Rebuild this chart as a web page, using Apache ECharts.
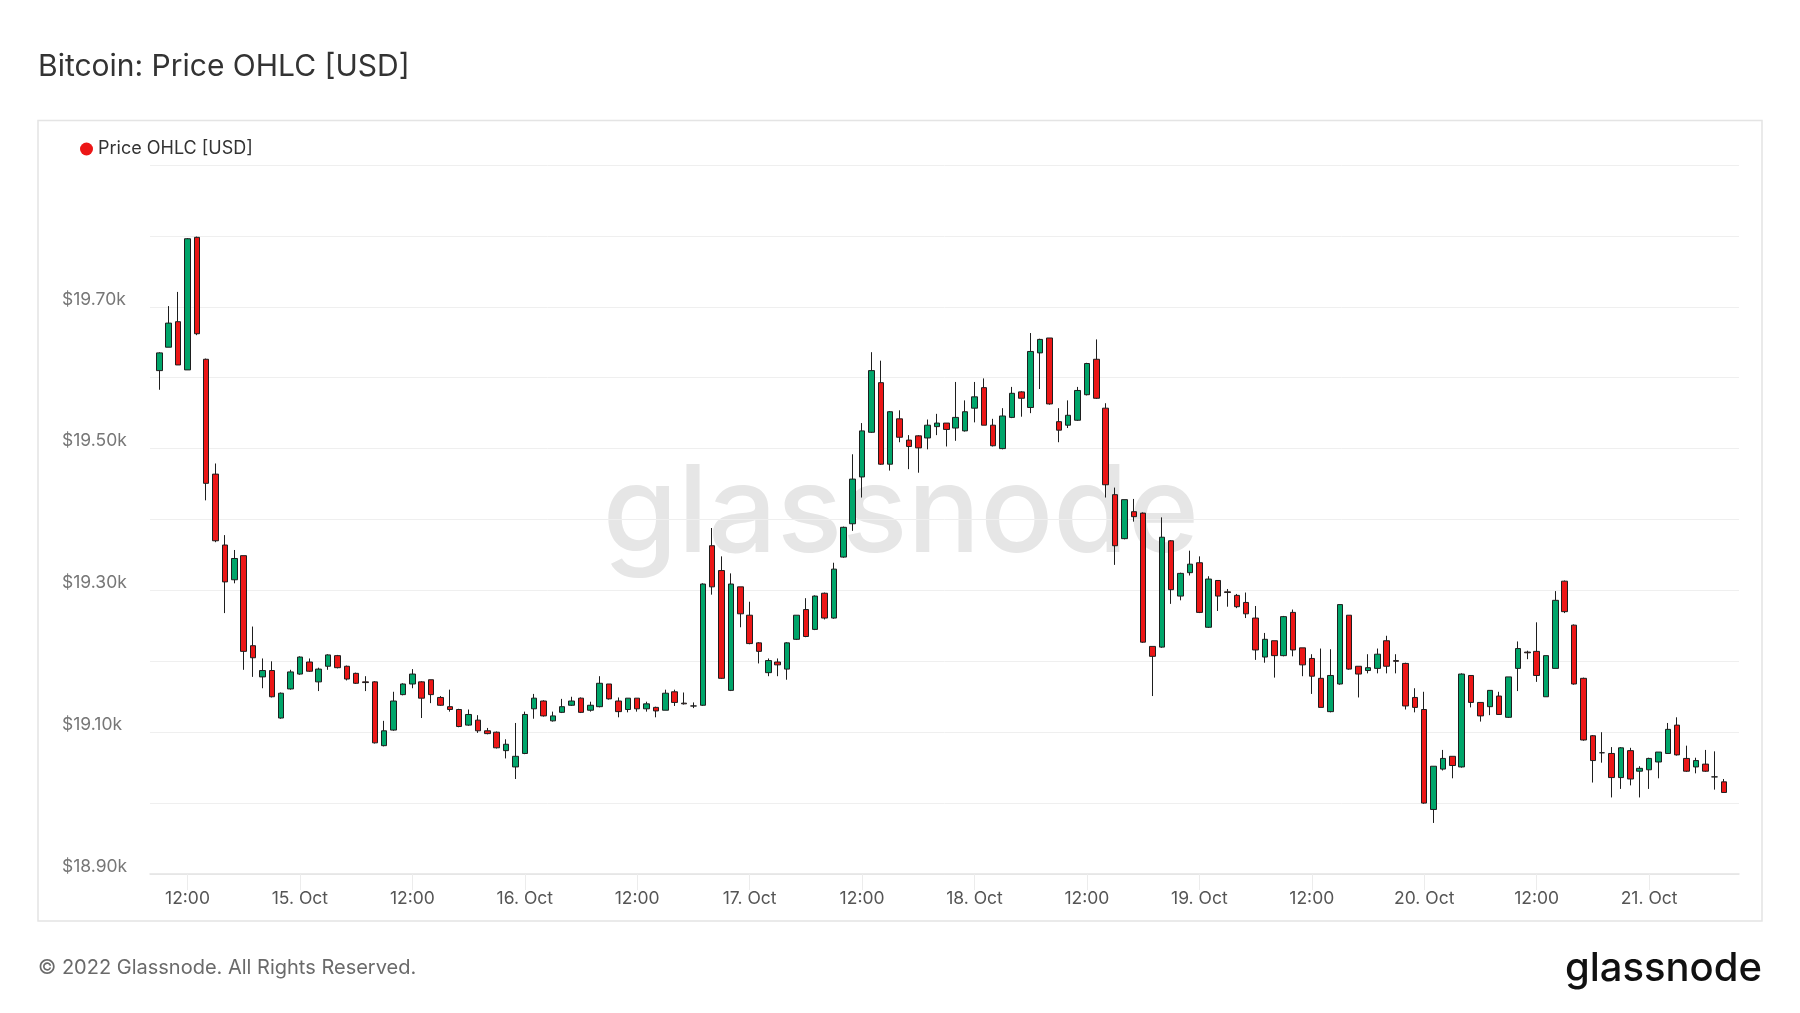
<!DOCTYPE html>
<html>
<head>
<meta charset="utf-8">
<title>Bitcoin: Price OHLC [USD]</title>
<script src="https://cdn.jsdelivr.net/npm/echarts@6/dist/echarts.min.js"></script>
<style>
  html, body { margin: 0; padding: 0; background: #fff; }
  #chart { width: 1800px; height: 1013px; }
</style>
</head>
<body>
<div id="chart"></div>
<script>
// hourly candles, first one is 14 Oct 09:00 (hours counted from 15 Oct 00:00)
const firstHour = -15

const open = [
  19610, 19643, 19679, 19611, 19798, 19626, 19464, 19364, 19315, 19349, 19222, 19178,
  19187, 19120, 19161, 19182, 19199, 19171, 19193, 19208, 19193, 19183, 19171, 19171,
  19081, 19103, 19153, 19168, 19171, 19174, 19149, 19136, 19132, 19110, 19117, 19102,
  19100, 19074, 19051, 19070, 19133, 19144, 19116, 19128, 19138, 19148, 19131, 19136,
  19168, 19144, 19132, 19148, 19133, 19135, 19131, 19157, 19141, 19137, 19138, 19363,
  19328, 19159, 19305, 19265, 19226, 19184, 19199, 19189, 19231, 19273, 19245, 19296,
  19261, 19347, 19394, 19460, 19523, 19593, 19478, 19542, 19512, 19518, 19515, 19531,
  19536, 19529, 19525, 19557, 19586, 19533, 19500, 19544, 19580, 19558, 19635, 19656,
  19538, 19533, 19540, 19576, 19626, 19557, 19435, 19373, 19411, 19409, 19221, 19220,
  19370, 19292, 19325, 19339, 19248, 19314, 19298, 19293, 19283, 19261, 19206, 19229,
  19208, 19269, 19219, 19204, 19176, 19129, 19168, 19265, 19193, 19187, 19190, 19229,
  19201, 19197, 19149, 19132, 18991, 19048, 19066, 19051, 19180, 19142, 19136, 19151,
  19121, 19190, 19213, 19214, 19150, 19190, 19313, 19251, 19176, 19095, 19071, 19070,
  19036, 19074, 19045, 19047, 19058, 19070, 19110, 19063, 19051, 19055, 19037, 19030
]
const close = [
  19635, 19677, 19618, 19796, 19662, 19451, 19370, 19312, 19345, 19214, 19205, 19187,
  19150, 19155, 19185, 19206, 19186, 19189, 19209, 19191, 19175, 19169, 19170, 19085,
  19102, 19144, 19168, 19182, 19148, 19153, 19138, 19132, 19108, 19125, 19102, 19098,
  19078, 19083, 19066, 19125, 19148, 19123, 19123, 19136, 19144, 19128, 19138, 19169,
  19147, 19129, 19148, 19133, 19140, 19130, 19155, 19142, 19140, 19137, 19309, 19305,
  19176, 19309, 19267, 19225, 19214, 19201, 19195, 19226, 19265, 19235, 19292, 19261,
  19330, 19389, 19457, 19525, 19610, 19478, 19552, 19516, 19503, 19501, 19533, 19536,
  19527, 19544, 19552, 19573, 19533, 19504, 19546, 19578, 19571, 19637, 19654, 19563,
  19526, 19547, 19582, 19620, 19571, 19449, 19363, 19428, 19404, 19227, 19207, 19375,
  19301, 19324, 19337, 19269, 19316, 19292, 19297, 19277, 19267, 19216, 19231, 19208,
  19263, 19216, 19195, 19179, 19135, 19180, 19280, 19189, 19182, 19191, 19210, 19193,
  19200, 19137, 19135, 19000, 19052, 19063, 19053, 19182, 19142, 19123, 19159, 19125,
  19178, 19218, 19212, 19180, 19208, 19286, 19270, 19168, 19089, 19060, 19071, 19036,
  19078, 19034, 19049, 19063, 19072, 19104, 19068, 19045, 19060, 19045, 19037, 19015
]
const low = [
  19583, 19643, 19618, 19611, 19660, 19427, 19368, 19268, 19310, 19188, 19178, 19162,
  19149, 19119, 19160, 19181, 19185, 19158, 19188, 19190, 19173, 19168, 19158, 19084,
  19080, 19102, 19152, 19162, 19120, 19141, 19137, 19129, 19107, 19109, 19099, 19097,
  19077, 19063, 19034, 19069, 19119, 19122, 19115, 19127, 19137, 19127, 19129, 19135,
  19146, 19121, 19128, 19129, 19129, 19121, 19131, 19137, 19139, 19134, 19137, 19294,
  19175, 19158, 19248, 19224, 19197, 19179, 19179, 19174, 19230, 19234, 19244, 19259,
  19260, 19346, 19384, 19431, 19522, 19477, 19469, 19509, 19471, 19466, 19499, 19519,
  19503, 19511, 19524, 19537, 19533, 19503, 19499, 19543, 19545, 19550, 19584, 19562,
  19509, 19529, 19539, 19575, 19570, 19431, 19336, 19372, 19397, 19226, 19151, 19219,
  19281, 19286, 19321, 19268, 19247, 19271, 19277, 19275, 19261, 19202, 19198, 19177,
  19207, 19207, 19179, 19154, 19135, 19128, 19167, 19188, 19149, 19183, 19183, 19183,
  19183, 19132, 19128, 18999, 18972, 19046, 19035, 19050, 19135, 19115, 19124, 19125,
  19120, 19158, 19203, 19171, 19150, 19190, 19268, 19167, 19088, 19029, 19057, 19008,
  19020, 19025, 19008, 19020, 19035, 19070, 19067, 19044, 19042, 19044, 19019, 19015
]
const high = [
  19636, 19701, 19721, 19797, 19799, 19627, 19479, 19378, 19357, 19349, 19249, 19204,
  19200, 19156, 19188, 19207, 19204, 19191, 19210, 19209, 19194, 19184, 19179, 19172,
  19116, 19157, 19169, 19189, 19172, 19174, 19151, 19160, 19133, 19132, 19124, 19106,
  19101, 19090, 19113, 19129, 19154, 19145, 19129, 19147, 19150, 19149, 19143, 19179,
  19168, 19149, 19148, 19148, 19143, 19136, 19160, 19160, 19156, 19142, 19310, 19388,
  19348, 19324, 19305, 19284, 19227, 19204, 19204, 19227, 19265, 19289, 19293, 19297,
  19339, 19390, 19492, 19536, 19636, 19624, 19553, 19554, 19519, 19519, 19541, 19549,
  19536, 19594, 19568, 19594, 19599, 19542, 19557, 19587, 19581, 19663, 19655, 19656,
  19557, 19568, 19587, 19621, 19654, 19564, 19445, 19428, 19429, 19410, 19221, 19403,
  19371, 19325, 19356, 19348, 19320, 19314, 19302, 19295, 19297, 19278, 19240, 19229,
  19264, 19273, 19219, 19210, 19218, 19217, 19280, 19265, 19193, 19210, 19218, 19236,
  19210, 19198, 19162, 19157, 19052, 19075, 19066, 19183, 19180, 19142, 19159, 19157,
  19178, 19228, 19215, 19255, 19208, 19299, 19314, 19252, 19177, 19096, 19100, 19079,
  19079, 19078, 19052, 19064, 19072, 19113, 19121, 19081, 19064, 19075, 19073, 19034
]

const xTickHours = [-12, 0, 12, 24, 36, 48, 60, 72, 84, 96, 108, 120, 132, 144]
const xTickLabels = ['12:00', '15. Oct', '12:00', '16. Oct', '12:00', '17. Oct', '12:00',
  '18. Oct', '12:00', '19. Oct', '12:00', '20. Oct', '12:00', '21. Oct']
const yTickValues = [18900, 19100, 19300, 19500, 19700]
const yTickLabels = ['$18.90k', '$19.10k', '$19.30k', '$19.50k', '$19.70k']

const seriesName = 'Price OHLC [USD]'
const upColor = '#00a56a'
const downColor = '#ec1616'
const edge = '#1e1e1e'
const font = 'Inter, "Noto Sans", sans-serif'

// [hour, open, close, low, high]
const candles = open.map((o, i) => [firstHour + i, o, close[i], low[i], high[i]])

const chart = echarts.init(document.getElementById('chart'))
chart.setOption({
  animation: false,
  backgroundColor: '#fff',
  textStyle: { fontFamily: font },
  title: {
    text: 'Bitcoin: Price OHLC [USD]',
    left: 33,
    top: 47,
    textStyle: { fontSize: 30, fontWeight: 'normal', color: '#333', fontFamily: font }
  },
  legend: {
    left: 75,
    top: 135,
    icon: 'circle',
    itemWidth: 13,
    itemHeight: 13,
    itemGap: 6,
    textStyle: { fontSize: 18, color: '#333', fontFamily: font },
    data: [{ name: seriesName, itemStyle: { color: downColor, borderWidth: 0 } }]
  },
  grid: { left: 150, right: 61, top: 165, bottom: 139 },
  xAxis: {
    type: 'value',
    min: -16,
    max: 153.6,
    splitLine: { show: false },
    axisLine: { show: true, lineStyle: { color: '#e4e4e4', width: 1.5 } },
    axisTick: {
      show: true,
      customValues: xTickHours,
      length: 16,
      lineStyle: { color: '#ececec', width: 1 }
    },
    axisLabel: {
      customValues: xTickHours,
      margin: 16,
      fontSize: 17.5,
      color: '#555',
      fontFamily: font,
      formatter: v => {
        const k = xTickHours.indexOf(v)
        return k < 0 ? '' : xTickLabels[k]
      }
    }
  },
  yAxis: {
    type: 'value',
    min: 18900,
    max: 19900,
    interval: 100,
    axisLine: { show: false },
    axisTick: { show: false },
    splitLine: { lineStyle: { color: '#efefef', width: 1 } },
    axisLabel: {
      customValues: yTickValues,
      align: 'left',
      verticalAlign: 'bottom',
      lineHeight: 15,
      margin: 88,
      fontSize: 17.5,
      color: '#777',
      fontFamily: font,
      formatter: v => {
        const k = yTickValues.indexOf(v)
        return k < 0 ? '' : yTickLabels[k]
      }
    }
  },
  graphic: [
    {
      type: 'rect',
      z: -10,
      shape: { x: 38, y: 120.5, width: 1724, height: 800.5 },
      style: { fill: 'none', stroke: '#e4e4e4', lineWidth: 1.5 }
    },
    {
      type: 'text',
      z: -5,
      x: 901,
      y: 516,
      style: {
        text: 'glassnode',
        fill: '#e6e6e6',
        font: '500 121px ' + font,
        textAlign: 'center',
        textVerticalAlign: 'middle'
      }
    },
    {
      type: 'text',
      x: 38,
      y: 968,
      style: {
        text: '© 2022 Glassnode. All Rights Reserved.',
        fill: '#6a6a6a',
        font: '20px ' + font,
        textAlign: 'left',
        textVerticalAlign: 'middle'
      }
    },
    {
      type: 'text',
      x: 1762,
      y: 969,
      style: {
        text: 'glassnode',
        fill: '#111',
        font: '500 40px ' + font,
        textAlign: 'right',
        textVerticalAlign: 'middle'
      }
    }
  ],
  series: [
    {
      name: seriesName,
      type: 'candlestick',
      barWidth: 6,
      data: candles,
      itemStyle: {
        color: upColor,
        color0: downColor,
        borderColor: edge,
        borderColor0: edge,
        borderColorDoji: edge,
        borderWidth: 1
      }
    }
  ]
})
</script>
</body>
</html>
